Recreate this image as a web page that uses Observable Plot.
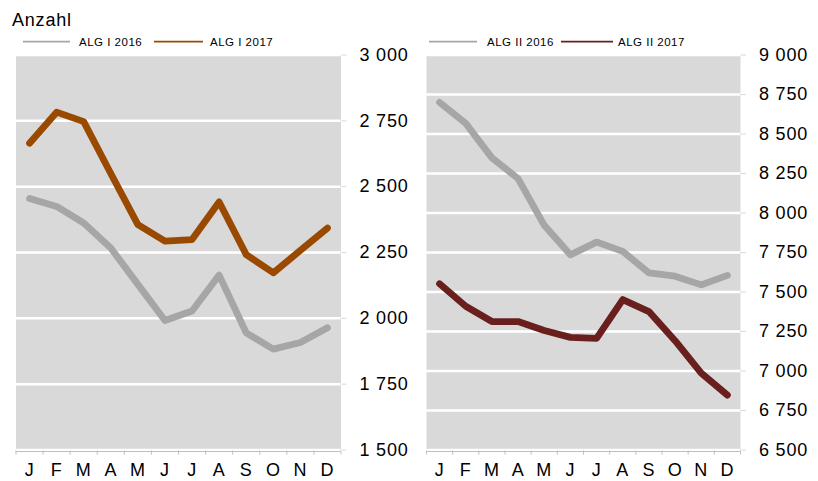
<!DOCTYPE html>
<html><head><meta charset="utf-8">
<script src="https://cdn.jsdelivr.net/npm/d3@7"></script>
<script src="https://cdn.jsdelivr.net/npm/@observablehq/plot@0.6"></script>
<style>
body{margin:0;background:#fff;}
#chart{position:relative;width:818px;height:481px;overflow:hidden;font-family:'Liberation Sans',Arial,sans-serif;}
#chart > svg{position:absolute;}
</style></head><body><div id="chart"></div>
<script>
const months = ["J","F","M","A","M","J","J","A","S","O","N","D"];
const algI2016 = [2455, 2425, 2362, 2267, 2129, 1992, 2028, 2164, 1945, 1883, 1908, 1964];
const algI2017 = [2665, 2783, 2747, 2550, 2356, 2293, 2299, 2442, 2242, 2173, 2258, 2343];
const algII2016 = [8700, 8567, 8349, 8218, 7922, 7735, 7816, 7757, 7621, 7600, 7545, 7605];
const algII2017 = [7552, 7410, 7313, 7313, 7256, 7213, 7207, 7452, 7376, 7192, 6987, 6847];
const ticksI = [1500, 1750, 2000, 2250, 2500, 2750, 3000];
const ticksII = [6500, 6750, 7000, 7250, 7500, 7750, 8000, 8250, 8500, 8750, 9000];
const legendI = ["ALG I 2016", "ALG I 2017"];
const legendII = ["ALG II 2016", "ALG II 2017"];
const unitLabel = "Anzahl";

const GRAY = "#a6a6a6", BROWN = "#9a4a00", DARKRED = "#6a1f1f";
const fmt = d3.formatLocale({thousands: "\u00a0", grouping: [3], decimal: ","}).format(",");

function panel(s2016, s2017, ticks, c2017, left, width, mL, mR) {
  const d16 = s2016.map((v, i) => ({x: i + 0.5, y: v}));
  const d17 = s2017.map((v, i) => ({x: i + 0.5, y: v}));
  const svg = Plot.plot({
    width, height: 481,
    marginTop: 54.5, marginBottom: 31.5, marginLeft: mL, marginRight: mR,
    style: "font-family:'Liberation Sans',Arial,sans-serif;font-size:18px;letter-spacing:0.8px;background:transparent;overflow:visible;color:black;",
    x: {type: "linear", domain: [0, 12]},
    y: {type: "linear", domain: [ticks[0], ticks[ticks.length - 1]]},
    marks: [
      Plot.frame({fill: "#d9d9d9", stroke: null}),
      Plot.gridY(ticks, {stroke: "white", strokeOpacity: 1, strokeWidth: 2.5}),
      Plot.ruleY([ticks[0]], {stroke: "#bfbfbf", strokeWidth: 1, dy: 1.5}),
      Plot.axisY(ticks, {anchor: "right", tickSize: 5, tickPadding: 13.5, stroke: "#d9d9d9", fill: "black", tickFormat: fmt, label: null}),
      Plot.axisX(d3.range(13), {anchor: "bottom", tickSize: 4, dy: 1, stroke: "#bfbfbf", tickFormat: () => "", label: null}),
      Plot.axisX(d3.range(12).map(i => i + 0.5), {anchor: "bottom", tickSize: 0, tickPadding: 13, fill: "black", tickFormat: d => months[Math.floor(d)], label: null}),
      Plot.line(d16, {x: "x", y: "y", stroke: GRAY, strokeWidth: 6.8, strokeLinecap: "round", strokeLinejoin: "round"}),
      Plot.line(d17, {x: "x", y: "y", stroke: c2017, strokeWidth: 6.8, strokeLinecap: "round", strokeLinejoin: "round"})
    ]
  });
  svg.style.left = left + "px";
  svg.style.top = "0px";
  return svg;
}

const chart = document.getElementById("chart");
chart.appendChild(panel(algI2016, algI2017, ticksI, BROWN, 0, 420, 15.5, 79.5));
chart.appendChild(panel(algII2016, algII2017, ticksII, DARKRED, 410, 408, 16, 78));

// overlay: unit label + legends
const ns = "http://www.w3.org/2000/svg";
const ov = document.createElementNS(ns, "svg");
ov.setAttribute("width", 818); ov.setAttribute("height", 481);
ov.style.left = "0px"; ov.style.top = "0px";
ov.style.fontFamily = "'Liberation Sans',Arial,sans-serif";
function txt(x, y, s, size, ls) {
  const t = document.createElementNS(ns, "text");
  t.setAttribute("x", x); t.setAttribute("y", y);
  t.setAttribute("font-size", size); t.setAttribute("letter-spacing", ls);
  t.setAttribute("fill", "black");
  t.textContent = s; ov.appendChild(t);
}
function ln(x1, x2, y, c) {
  const l = document.createElementNS(ns, "line");
  l.setAttribute("x1", x1); l.setAttribute("x2", x2);
  l.setAttribute("y1", y); l.setAttribute("y2", y);
  l.setAttribute("stroke", c); l.setAttribute("stroke-width", 1.8);
  ov.appendChild(l);
}
txt(12, 25.5, unitLabel, 18, 0.8);
const legendItems = [
  [23, 70, 79, legendI[0], GRAY], [154, 203, 210, legendI[1], BROWN],
  [429, 477, 487, legendII[0], GRAY], [561, 613, 618, legendII[1], DARKRED]
];
for (const [a, b, tx, s, c] of legendItems) { ln(a, b, 41.7, c); txt(tx, 45.7, s, 11.5, 0.5); }
chart.appendChild(ov);
</script></body></html>
